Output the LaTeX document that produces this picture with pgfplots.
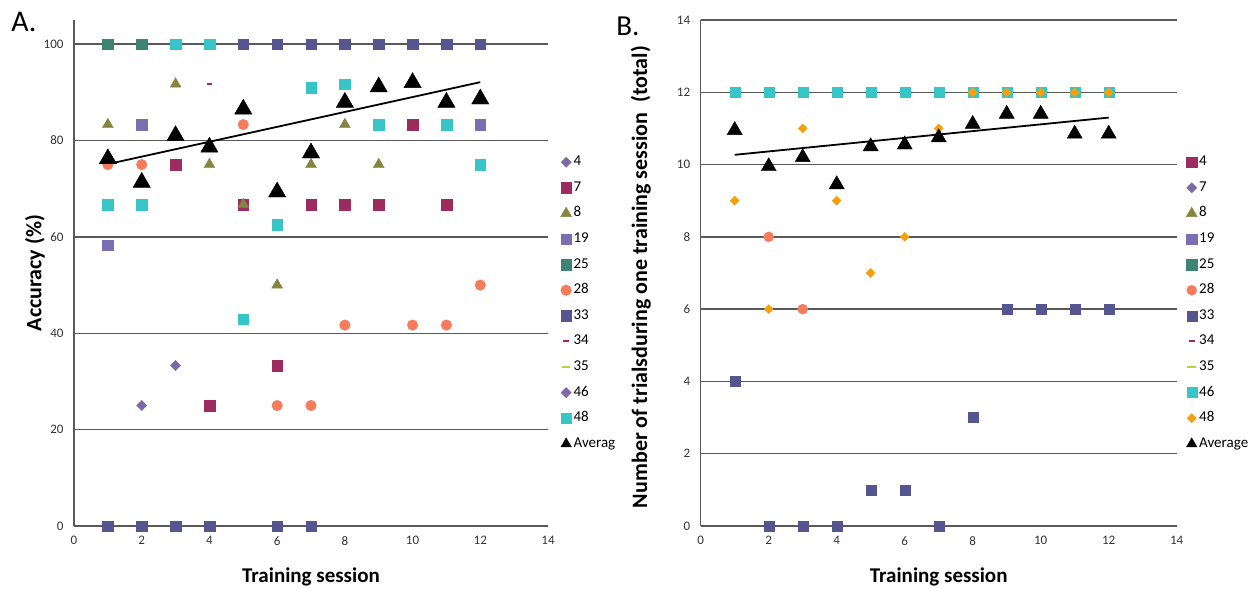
\documentclass[border=0pt]{standalone}
\usepackage{fontspec}
\setmainfont{Carlito}
\usepackage{pgfplots}
\pgfplotsset{compat=1.18}

\definecolor{cpurp}{HTML}{7C68A8}
\definecolor{cmaroon}{HTML}{9C2B5E}
\definecolor{colive}{HTML}{858540}
\definecolor{cperi}{HTML}{7A6DB0}
\definecolor{cteal}{HTML}{3E8473}
\definecolor{ccoral}{HTML}{F47B5B}
\definecolor{cslate}{HTML}{55558F}
\definecolor{clime}{HTML}{BCD43A}
\definecolor{ccyan}{HTML}{37C5C8}
\definecolor{corange}{HTML}{F5A00F}

\pgfplotsset{
  panel/.style={
    scale only axis, width=474pt, height=506pt,
    xmin=0, xmax=14, xtick={0,2,...,14},
    axis x line=bottom, axis y line=left,
    axis line style={-, black!65, line width=1.3pt},
    ymajorgrids, grid style={black!65, line width=1.3pt},
    major tick length=0pt,
    tick label style={font=\fontsize{13}{13}\selectfont, text=black!80},
    yticklabel style={xshift=-7pt},
    xticklabel style={yshift=-7pt},
    /pgf/number format/assume math mode=true,
    every axis y label/.style={rotate=90, anchor=center},
    every axis x label/.style={anchor=center},
    label style={font=\bfseries\fontsize{21}{21}\selectfont},
    legend cell align=left,
    legend style={draw=none, fill=none, font=\fontsize{15}{15}\selectfont,
      row sep=8.6pt, nodes={text height=10pt, text depth=3pt}},
    clip=false,
  },
  pt/.style={only marks,
    legend image code/.code={\draw[##1] plot coordinates {(0cm,0cm)};}},
  sq/.style={pt, mark=square*, mark size=5.3pt, color=#1},
  dia/.style={pt, mark=square*, mark size=3.6pt, mark options={rotate=45}, color=#1},
  tri/.style={pt, mark=triangle*, mark size=6.3pt, color=#1},
  circ/.style={pt, mark=*, mark size=5.3pt, color=#1},
  dash/.style={pt, mark=-, mark size=2.8pt, mark options={line width=2pt}, color=#1},
  avg/.style={pt, mark=triangle*, mark size=#1, color=black,
    legend image post style={mark size=6pt}},
  seg/.style={color=#1, line width=2pt,
    legend image code/.code={\draw[##1] (-0.15cm,0cm) -- (0.15cm,0cm);}},
}

\begin{document}
\begin{tikzpicture}
\useasboundingbox (0,0) rectangle (1253pt,-589pt);

\node[font=\fontsize{30}{30}\selectfont] at (24pt,-22pt) {A.};
\node[font=\fontsize{29}{29}\selectfont] at (628pt,-26pt) {B.};

% Panel A: accuracy
\begin{axis}[panel, at={(74pt,-526pt)}, anchor=south west,
    ymin=0, ymax=105, ytick={0,20,...,100},
    xlabel={Training session}, ylabel={Accuracy (\%)},
    xlabel style={at={(axis description cs:0.5,-0.101)}},
    ylabel style={at={(axis description cs:-0.0823,0.5)}, font=\bfseries\fontsize{22}{22}\selectfont},
    legend style={at={(1.02,0.740)}, anchor=north west}]
\addplot[dia=cpurp] coordinates {(2,25)};
\addlegendentry{4}
\addplot[sq=cmaroon] coordinates {(3,75)(4,25)(5,66.7)(6,33.3)(7,66.7)(8,66.7)(9,66.7)(10,83.3)(11,66.7)};
\addlegendentry{7}
\addplot[tri=colive] coordinates {(1,83.3)(3,91.7)(4,75)(5,66.7)(6,50)(7,75)(8,83.3)(9,75)};
\addlegendentry{8}
\addplot[sq=cperi] coordinates {(1,58.3)(2,83.3)(12,83.3)};
\addlegendentry{19}
\addplot[sq=cteal] coordinates {(1,100)(2,100)};
\addlegendentry{25}
\addplot[circ=ccoral] coordinates {(1,75)(2,75)(5,83.3)(6,25)(7,25)(8,41.7)(10,41.7)(11,41.7)(12,50)};
\addlegendentry{28}
\addplot[sq=cslate] coordinates {(1,0)(2,0)(3,0)(4,0)(6,0)(7,0)(5,100)(6,100)(7,100)(8,100)(9,100)(10,100)(11,100)(12,100)};
\addlegendentry{33}
\addplot[dash=cmaroon] coordinates {(4,91.7)};
\addlegendentry{34}
\addlegendimage{seg=clime}
\addlegendentry{35}
\addplot[dia=cpurp] coordinates {(3,33.3)};
\addlegendentry{46}
\addplot[sq=ccyan] coordinates {(1,66.7)(2,66.7)(3,100)(4,100)(5,42.9)(6,62.5)(7,90.9)(8,91.7)(9,83.3)(11,83.3)(12,75)};
\addlegendentry{48}
\addplot[avg=10pt] coordinates {(1,76.2)(2,71.3)(3,81.0)(4,78.6)(5,86.5)(6,69.3)(7,77.4)(8,87.9)(9,91.1)(10,92.0)(11,87.9)(12,88.6)};
\addlegendentry{Averag}
\addplot[black, line width=1.8pt, forget plot] coordinates {(1,75.1)(12,92.1)};
\end{axis}

% Panel B: number of trials
\begin{axis}[panel, at={(700.7pt,-526pt)}, anchor=south west, width=476pt,
    ymin=0, ymax=14, ytick={0,2,...,14},
    xlabel={Training session},
    ylabel={Number of trialsduring one training session\ \ (total)},
    xlabel style={at={(axis description cs:0.5,-0.101)}},
    ylabel style={at={(axis description cs:-0.126,0.492)}, font=\bfseries\fontsize{22}{22}\selectfont},
    legend style={at={(1.0134,0.740)}, anchor=north west}]
\addlegendimage{sq=cmaroon}
\addlegendentry{4}
\addlegendimage{dia=cpurp}
\addlegendentry{7}
\addlegendimage{tri=colive}
\addlegendentry{8}
\addlegendimage{sq=cperi}
\addlegendentry{19}
\addlegendimage{sq=cteal}
\addlegendentry{25}
\addplot[circ=ccoral, mark size=5pt] coordinates {(2,8)(3,6)};
\addlegendentry{28}
\addplot[sq=cslate, mark size=5pt] coordinates {(1,4)(2,0)(3,0)(4,0)(5,1)(6,1)(7,0)(8,3)(9,6)(10,6)(11,6)(12,6)};
\addlegendentry{33}
\addlegendimage{dash=cmaroon}
\addlegendentry{34}
\addlegendimage{seg=clime}
\addlegendentry{35}
\addplot[sq=ccyan, mark size=5pt] coordinates {(1,12)(2,12)(3,12)(4,12)(5,12)(6,12)(7,12)(8,12)(9,12)(10,12)(11,12)(12,12)};
\addlegendentry{46}
\addplot[dia=corange, mark size=3.2pt] coordinates {(1,9)(2,6)(3,11)(4,9)(5,7)(6,8)(7,11)(8,12)(9,12)(10,12)(11,12)(12,12)};
\addlegendentry{48}
\addplot[avg=8.7pt] coordinates {(1,10.95)(2,9.95)(3,10.2)(4,9.45)(5,10.5)(6,10.55)(7,10.75)(8,11.12)(9,11.4)(10,11.4)(11,10.85)(12,10.85)};
\addlegendentry{Average}
\addplot[black, line width=1.8pt, forget plot] coordinates {(1,10.27)(12,11.3)};
\end{axis}
\end{tikzpicture}
\end{document}
